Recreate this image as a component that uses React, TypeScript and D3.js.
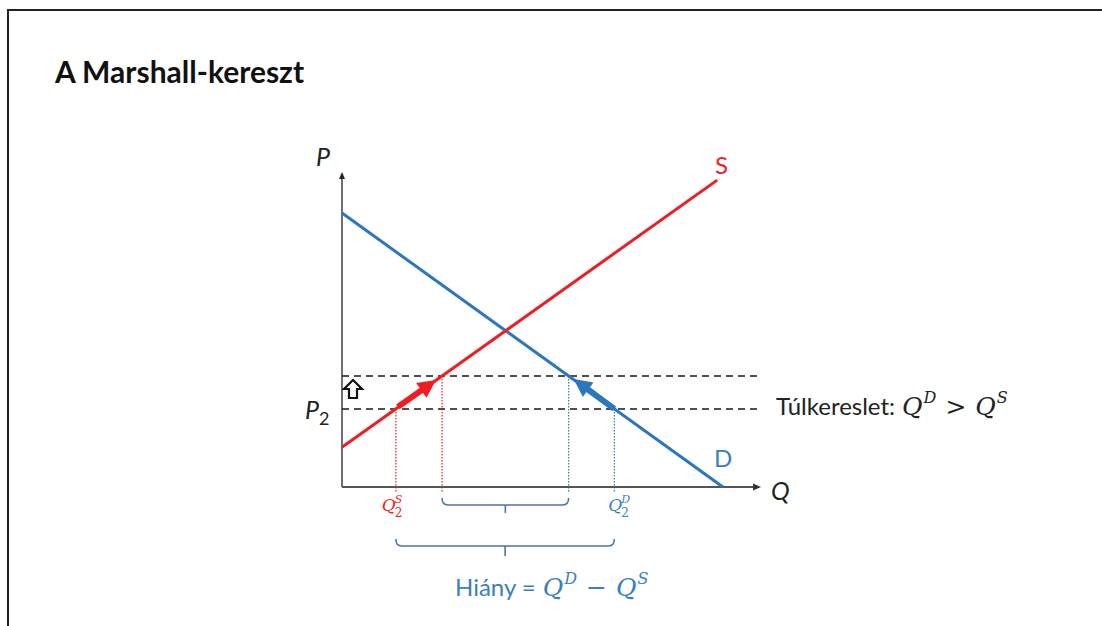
import React from "react";
import * as d3 from "d3";

// Linear demand and supply schedules (quantity q, price p)
const demandLine = [
  { q: 0, p: 10 },
  { q: 10, p: 0 },
];
const supplyLine = [
  { q: 0, p: 1.45 },
  { q: 9.85, p: 11.2 },
];
// Upper price line reached after adjustment, and the ceiling price P2
const priceLevels = [4.05, 2.85];
const axisMax = { q: 11, p: 11.5 };

const W = 1102;
const H = 626;
const RED = "#f01c24";
const BLUE = "#2a77bd";
const TEXT_BLUE = "#3a7fc1";
const BRACE = "#4f73a8";
const SANS = "Lato, 'Open Sans', sans-serif";
const MATH = "'DejaVu Serif', 'Liberation Serif', serif";

const x = d3.scaleLinear().domain([0, 11]).range([342, 761]);
const y = d3.scaleLinear().domain([0, 10]).range([487, 213]);

const lineGen = d3
  .line<{ q: number; p: number }>()
  .x((d) => x(d.q))
  .y((d) => y(d.p));

// quantity on each schedule for a given price
const slopeOf = (l: { q: number; p: number }[]) => (l[1].p - l[0].p) / (l[1].q - l[0].q);
const qOn = (l: { q: number; p: number }[], p: number) => l[0].q + (p - l[0].p) / slopeOf(l);

const [pHigh, p2] = priceLevels;
const qS2 = qOn(supplyLine, p2);
const qSH = qOn(supplyLine, pHigh);
const qD2 = qOn(demandLine, p2);
const qDH = qOn(demandLine, pHigh);

function ThickArrow({ x1, y1, x2, y2, color }: { x1: number; y1: number; x2: number; y2: number; color: string }) {
  const dx = x2 - x1;
  const dy = y2 - y1;
  const len = Math.hypot(dx, dy);
  const ux = dx / len;
  const uy = dy / len;
  const headL = 18;
  const headW = 9;
  const bx = x2 - ux * headL;
  const by = y2 - uy * headL;
  const nx = -uy;
  const ny = ux;
  const pts = [
    [x2, y2],
    [bx + nx * headW, by + ny * headW],
    [bx - nx * headW, by - ny * headW],
  ];
  return (
    <g>
      <line x1={x1} y1={y1} x2={bx + ux * 2} y2={by + uy * 2} stroke={color} strokeWidth={6} />
      <polygon points={pts.map((p) => p.join(",")).join(" ")} fill={color} />
    </g>
  );
}

function Brace({ x1, x2, yy, drop }: { x1: number; x2: number; yy: number; drop: number }) {
  const mid = (x1 + x2) / 2;
  const r = 4;
  const d = `M${x1},${yy - 7} Q${x1},${yy} ${x1 + r + 2},${yy} L${x2 - r - 2},${yy} Q${x2},${yy} ${x2},${yy - 7}`;
  return (
    <g fill="none" stroke={BRACE} strokeWidth={1.6}>
      <path d={d} />
      <line x1={mid} y1={yy} x2={mid} y2={yy + drop} />
    </g>
  );
}

function QLabel({ px, py, sup, color }: { px: number; py: number; sup: string; color: string }) {
  return (
    <g fill={color} fontFamily={MATH} fontStyle="italic">
      <text x={px} y={py} fontSize={17}>Q</text>
      <text x={px + 13} y={py - 8} fontSize={11}>{sup}</text>
      <text x={px + 13} y={py + 6} fontSize={12} fontStyle="normal">2</text>
    </g>
  );
}

function MathDiff({ op }: { op: string }) {
  return (
    <>
      <tspan fontFamily={MATH} fontStyle="italic" fontSize={25} dx={7}>Q</tspan>
      <tspan fontFamily={MATH} fontStyle="italic" fontSize={16} dy={-12} dx={1}>D</tspan>
      <tspan fontFamily={MATH} fontSize={25} dy={12} dx={9}>{op}</tspan>
      <tspan fontFamily={MATH} fontStyle="italic" fontSize={25} dx={9}>Q</tspan>
      <tspan fontFamily={MATH} fontStyle="italic" fontSize={16} dy={-12} dx={1}>S</tspan>
    </>
  );
}

export default function App() {
  const xAxisEnd = x(axisMax.q);
  const yAxisTop = y(axisMax.p);
  const x0 = x(0);
  const y0 = y(0);
  return (
    <svg width={W} height={H} style={{ position: "absolute", left: 0, top: 0, background: "#fff" }}>
      <rect x={8} y={10} width={1200} height={800} fill="#fff" stroke="#222" strokeWidth={2} />
      <text x={55} y={83} fontFamily={SANS} fontWeight="bold" fontSize={30} fill="#111">
        A Marshall-kereszt
      </text>

      {/* price lines */}
      {priceLevels.map((p) => (
        <line key={p} x1={x0} x2={xAxisEnd} y1={y(p)} y2={y(p)} stroke="#505050" strokeWidth={2} strokeDasharray="7,5" />
      ))}

      {/* dotted quantity guides */}
      <g strokeWidth={1.2} strokeDasharray="1.5,1.5">
        <line x1={x(qS2)} x2={x(qS2)} y1={y(p2)} y2={y0 + 5} stroke={RED} />
        <line x1={x(qSH)} x2={x(qSH)} y1={y(pHigh)} y2={y0 + 5} stroke={RED} />
        <line x1={x(qDH)} x2={x(qDH)} y1={y(pHigh)} y2={y0 + 5} stroke={BLUE} />
        <line x1={x(qD2)} x2={x(qD2)} y1={y(p2)} y2={y0 + 5} stroke={BLUE} />
      </g>

      {/* axes */}
      <line x1={x0} y1={y0} x2={x0} y2={yAxisTop + 4} stroke="#222" strokeWidth={1.3} />
      <polygon points={`${x0},${yAxisTop} ${x0 - 3},${yAxisTop + 7} ${x0 + 3},${yAxisTop + 7}`} fill="#222" />
      <line x1={x0} y1={y0} x2={xAxisEnd - 4} y2={y0} stroke="#555" strokeWidth={2} />
      <polygon points={`${xAxisEnd},${y0} ${xAxisEnd - 8},${y0 - 3.5} ${xAxisEnd - 8},${y0 + 3.5}`} fill="#333" />

      {/* schedules */}
      <path d={lineGen(demandLine) ?? ""} fill="none" stroke={BLUE} strokeWidth={3} />
      <path d={lineGen(supplyLine) ?? ""} fill="none" stroke={RED} strokeWidth={3} />

      {/* movement along the schedules */}
      <ThickArrow x1={x(qS2) + 2} y1={y(p2) - 2} x2={x(qSH) - 6} y2={y(pHigh) + 4} color={RED} />
      <ThickArrow x1={x(qD2)} y1={y(p2)} x2={x(qDH) + 5} y2={y(pHigh) + 3} color={BLUE} />

      {/* hollow up arrow between the price lines */}
      <path
        d={`M353,380 L362,389 L357,389 L357,398 L349,398 L349,389 L344,389 Z`}
        fill="#fff"
        stroke="#111"
        strokeWidth={2.2}
        strokeLinejoin="miter"
      />

      {/* axis labels */}
      <text x={316} y={166} fontFamily={SANS} fontStyle="italic" fontSize={25} fill="#222">P</text>
      <text x={305} y={419} fontFamily={SANS} fontStyle="italic" fontSize={25} fill="#222">
        P<tspan fontStyle="normal" fontSize={18} dy={6}>2</tspan>
      </text>
      <text x={771} y={500} fontFamily={SANS} fontStyle="italic" fontSize={25} fill="#222">Q</text>
      <text x={715} y={174} fontFamily={SANS} fontSize={24} fill={RED}>S</text>
      <text x={714} y={467} fontFamily={SANS} fontSize={24} fill={TEXT_BLUE}>D</text>

      <QLabel px={x(qS2) - 14} py={511} sup="S" color={RED} />
      <QLabel px={x(qD2) - 6} py={511} sup="D" color={TEXT_BLUE} />

      {/* shortage braces */}
      <Brace x1={x(qSH)} x2={x(qDH)} yy={505} drop={8} />
      <Brace x1={x(qS2)} x2={x(qD2)} yy={546} drop={10} />

      <text x={776} y={415} fontFamily={SANS} fontSize={24} fill="#222">
        Túlkereslet:
        <MathDiff op=">" />
      </text>

      <text x={455} y={596} fontFamily={SANS} fontSize={24} fill={TEXT_BLUE}>
        Hiány =
        <MathDiff op="−" />
      </text>
    </svg>
  );
}
